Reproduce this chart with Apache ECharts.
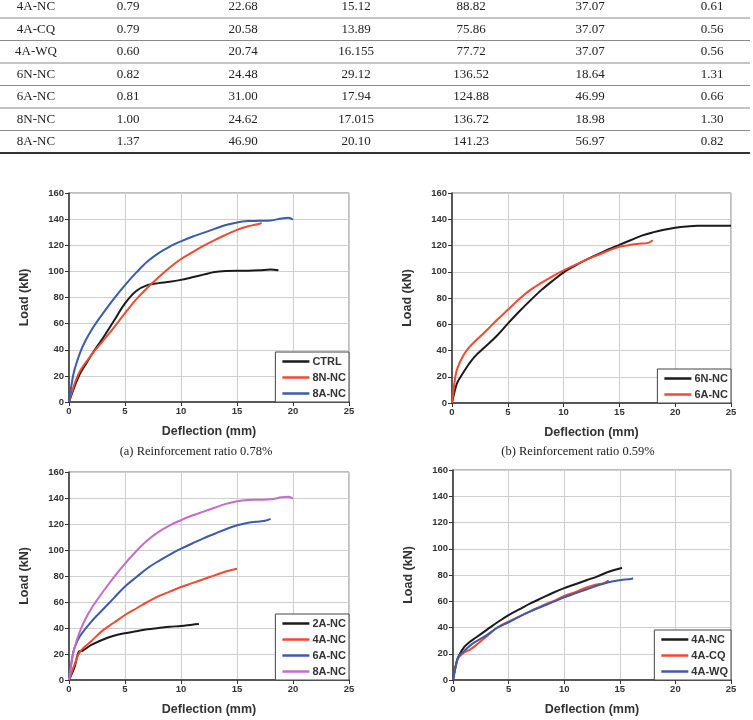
<!DOCTYPE html>
<html>
<head>
<meta charset="utf-8">
<title>Load-deflection curves</title>
<script src="https://cdn.jsdelivr.net/npm/echarts@6/dist/echarts.min.js"></script>
<style>
html,body{margin:0;padding:0;background:#fff;}
#main{width:753px;height:720px;}
</style>
</head>
<body>
<div id="main"></div>
<script>
// table rows (top part of the figure)
var tblName = ['4A-NC','4A-CQ','4A-WQ','6N-NC','6A-NC','8N-NC','8A-NC'];
var tblC1 = ['0.79','0.79','0.60','0.82','0.81','1.00','1.37'];
var tblC2 = ['22.68','20.58','20.74','24.48','31.00','24.62','46.90'];
var tblC3 = ['15.12','13.89','16.155','29.12','17.94','17.015','20.10'];
var tblC4 = ['88.82','75.86','77.72','136.52','124.88','136.72','141.23'];
var tblC5 = ['37.07','37.07','37.07','18.64','46.99','18.98','56.97'];
var tblC6 = ['0.61','0.56','0.56','1.31','0.66','1.30','0.82'];

var captions = ['(a) Reinforcement ratio 0.78%','(b) Reinforcement ratio 0.59%'];
var xTicks = [0,5,10,15,20,25];
var yTicks = [0,20,40,60,80,100,120,140,160];

// (a)
var aCTRL = [[0,0],[0.5,12],[1,22],[1.5,29],[2,36],[2.5,42.5],[3,48.5],[4,62],[5,75.5],[6,85],[7,89.5],[8,91],[9,92],[10,93.5],[11,95.5],[12,97.5],[13,99.5],[14,100.3],[15,100.5],[16,100.5],[17,100.8],[18,101.5],[18.7,100.8]];
var a8N = [[0,0],[0.5,14],[1,24],[2,36],[3,46.5],[4,57],[5,68],[6,78.5],[7,87.5],[8,95.5],[9,103],[10,109.5],[11,114.5],[12,119.5],[13,124],[14,128],[15,131.8],[16,134.5],[17,136.5],[17.2,137]];
var a8A = [[0,0],[0.3,17],[0.5,25],[1,38],[1.5,47.5],[2,55],[2.5,61.5],[3,67.5],[4,79],[5,89.5],[6,99],[7,107.5],[8,114],[9,119],[10,123],[11,126.5],[12,129.5],[13,132.5],[14,135.5],[15,137.5],[16,138.5],[17,138.7],[18,139],[19,140.5],[19.6,141],[20,139.5]];
// (b)
var b6N = [[0,0],[0.3,11],[0.5,16],[1,23],[1.5,29.5],[2,35],[3,43],[4,51],[5,60.5],[6,69.5],[7,78],[8,86],[9,93],[10,99.5],[11,104.5],[12,109],[13,113],[14,117],[15,120.5],[16,124],[17,127.5],[18,130],[19,132],[20,133.5],[21,134.5],[22,135],[25,135]];
var b6A = [[0,0],[0.3,20],[0.5,27],[1,36],[1.5,42],[2,46.5],[3,54.5],[4,63],[5,71],[6,79],[7,86],[8,91.5],[9,96.5],[10,101],[11,105],[12,109],[13,112.5],[14,116],[15,119],[16,120.5],[17,121.5],[17.6,122],[18,124]];
// (c)
var c2A = [[0,0],[0.5,10],[0.9,22],[1.2,22.5],[2,27],[3,31],[4,34],[5,36],[6,37.5],[7,39],[8,40],[9,41],[10,41.5],[11,42.5],[11.6,43]];
var c4A = [[0,0],[0.5,12],[1,22],[2,30],[3,38],[4,44],[5,50],[6,55],[7,60],[8,64.5],[9,68],[10,71.5],[11,74.5],[12,77.5],[13,80.5],[14,83.5],[15,85.5]];
var c6A = [[0,0],[0.3,18],[0.5,25],[1,34],[2,45],[3,54],[4,63],[5,72],[6,79],[7,86],[8,91.5],[9,96.5],[10,101],[11,105],[12,109],[13,112.5],[14,116],[15,119],[16,121],[17,122],[17.5,122.5],[18,124]];
var c8A = [[0,0],[0.3,17],[0.5,25],[1,38],[1.5,47.5],[2,55],[2.5,61.5],[3,67.5],[4,79],[5,89.5],[6,99],[7,107.5],[8,114],[9,119],[10,123],[11,126.5],[12,129.5],[13,132.5],[14,135.5],[15,137.5],[16,138.5],[17,138.7],[18,139],[19,140.5],[19.6,141],[20,139.5]];
// (d)
var d4NC = [[0,0],[0.3,13],[0.5,18],[1,25],[1.5,29],[2,32],[3,38],[4,44],[5,49.5],[6,54],[7,58.5],[8,62.5],[9,66.5],[10,70],[11,73],[12,76],[13,79],[14,82.5],[15,85],[15.2,85.5]];
var d4CQ = [[0,0],[0.3,12],[0.5,17],[1,21],[1.5,23],[2,26],[3,33],[4,40],[5,44.5],[6,48.5],[7,52.5],[8,56.5],[9,60],[10,64],[11,67],[12,70.5],[13,73],[13.5,73.5],[14,76]];
var d4WQ = [[0,0],[0.3,13],[0.5,18],[1,22],[1.5,26],[2,29],[3,34],[4,40],[5,44],[6,48.5],[7,52.5],[8,56],[9,59.5],[10,63],[11,66],[12,69],[13,72],[14,74.5],[15,76],[16,77],[16.2,77.5]];

var cBlack = '#1a1a1a', cRed = '#f04a32', cBlue = '#3b5bab', cPink = '#c46cc8';

var myChart = echarts.init(document.getElementById('main'));

var grids = [
	{left:69, top:193, width:280, height:209},
	{left:452, top:193, width:279, height:210},
	{left:69, top:472, width:280, height:208},
	{left:453, top:470, width:278, height:210}
];

var labelFont = {color:'#333', fontWeight:'bold', fontSize:9.5, fontFamily:'Liberation Sans'};
var nameFont = {color:'#333', fontWeight:'bold', fontSize:12.5, fontFamily:'Liberation Sans'};

var xAxes = [], yAxes = [];
grids.forEach(function(g, i){
	g.show = true;
	g.borderColor = '#7a7a7a';
	g.borderWidth = 1;
	xAxes.push({
		type:'value', gridIndex:i, min:xTicks[0], max:xTicks[xTicks.length-1], interval:5,
		name:'Deflection (mm)', nameLocation:'middle', nameGap:23, nameTextStyle:nameFont,
		axisLine:{show:true, lineStyle:{color:'#333', width:1.5}},
		axisTick:{show:true, length:4, lineStyle:{color:'#333'}},
		axisLabel:Object.assign({margin:4}, labelFont),
		splitLine:{show:true, lineStyle:{color:'#cfcfcf', width:1}}
	});
	yAxes.push({
		type:'value', gridIndex:i, min:yTicks[0], max:yTicks[yTicks.length-1], interval:20,
		name:'Load (kN)', nameLocation:'middle', nameGap:38, nameTextStyle:nameFont,
		axisLine:{show:true, lineStyle:{color:'#333', width:1.5}},
		axisTick:{show:true, length:4, lineStyle:{color:'#333'}},
		axisLabel:Object.assign({margin:5}, labelFont),
		splitLine:{show:true, lineStyle:{color:'#cfcfcf', width:1}}
	});
});

function line(name, data, color, idx){
	return {
		name:name, type:'line', xAxisIndex:idx, yAxisIndex:idx, data:data,
		smooth:0.35, showSymbol:false, symbol:'none',
		lineStyle:{color:color, width:2}, itemStyle:{color:color}
	};
}

var series = [
	line('a:CTRL', aCTRL, cBlack, 0),
	line('a:8N-NC', a8N, cRed, 0),
	line('a:8A-NC', a8A, cBlue, 0),
	line('b:6N-NC', b6N, cBlack, 1),
	line('b:6A-NC', b6A, cRed, 1),
	line('c:2A-NC', c2A, cBlack, 2),
	line('c:4A-NC', c4A, cRed, 2),
	line('c:6A-NC', c6A, cBlue, 2),
	line('c:8A-NC', c8A, cPink, 2),
	line('d:4A-NC', d4NC, cBlack, 3),
	line('d:4A-CQ', d4CQ, cRed, 3),
	line('d:4A-WQ', d4WQ, cBlue, 3)
];

function legend(names, right, bottom){
	return {
		data:names, orient:'vertical', right:right, bottom:bottom,
		icon:'rect', itemWidth:27, itemHeight:2.5, itemGap:5,
		backgroundColor:'#fff', borderColor:'#444', borderWidth:1, borderRadius:0,
		padding:[4,3,3,7], selectedMode:false,
		formatter:function(n){ return n.split(':')[1]; },
		textStyle:{color:'#333', fontWeight:'bold', fontSize:11, fontFamily:'Liberation Sans', padding:[0,0,0,-2]}
	};
}

// table drawn as text + rules
var tblCols = [tblName, tblC1, tblC2, tblC3, tblC4, tblC5, tblC6];
var colX = [36, 128, 243, 356, 471, 590, 712];
var graphics = [];
for(var r = 0; r < tblName.length; r++){
	var cy = 7 + r * 22.5;
	for(var c = 0; c < tblCols.length; c++){
		graphics.push({type:'text', x:colX[c], y:cy, style:{
			text:tblCols[c][r], fill:'#222', font:'13px "Liberation Serif"', textAlign:'center', textVerticalAlign:'middle'}});
	}
	var last = r == tblName.length - 1;
	graphics.push({type:'line', shape:{x1:0, y1:cy + 11, x2:750, y2:cy + 11},
		style:{stroke:last ? '#333' : '#8a8a8a', lineWidth:last ? 2 : 1.2}});
}
graphics.push({type:'text', x:196, y:452, style:{text:captions[0], fill:'#222', font:'12.5px "Liberation Serif"', textAlign:'center', textVerticalAlign:'middle'}});
graphics.push({type:'text', x:578, y:452, style:{text:captions[1], fill:'#222', font:'12.5px "Liberation Serif"', textAlign:'center', textVerticalAlign:'middle'}});

var option = {
	animation:false,
	backgroundColor:'#fff',
	grid:grids,
	xAxis:xAxes,
	yAxis:yAxes,
	legend:[
		legend(['a:CTRL','a:8N-NC','a:8A-NC'], 404, 318),
		legend(['b:6N-NC','b:6A-NC'], 22, 317),
		legend(['c:2A-NC','c:4A-NC','c:6A-NC','c:8A-NC'], 404, 40),
		legend(['d:4A-NC','d:4A-CQ','d:4A-WQ'], 22, 40)
	],
	series:series,
	graphic:graphics
};
myChart.setOption(option);
</script>
</body>
</html>
